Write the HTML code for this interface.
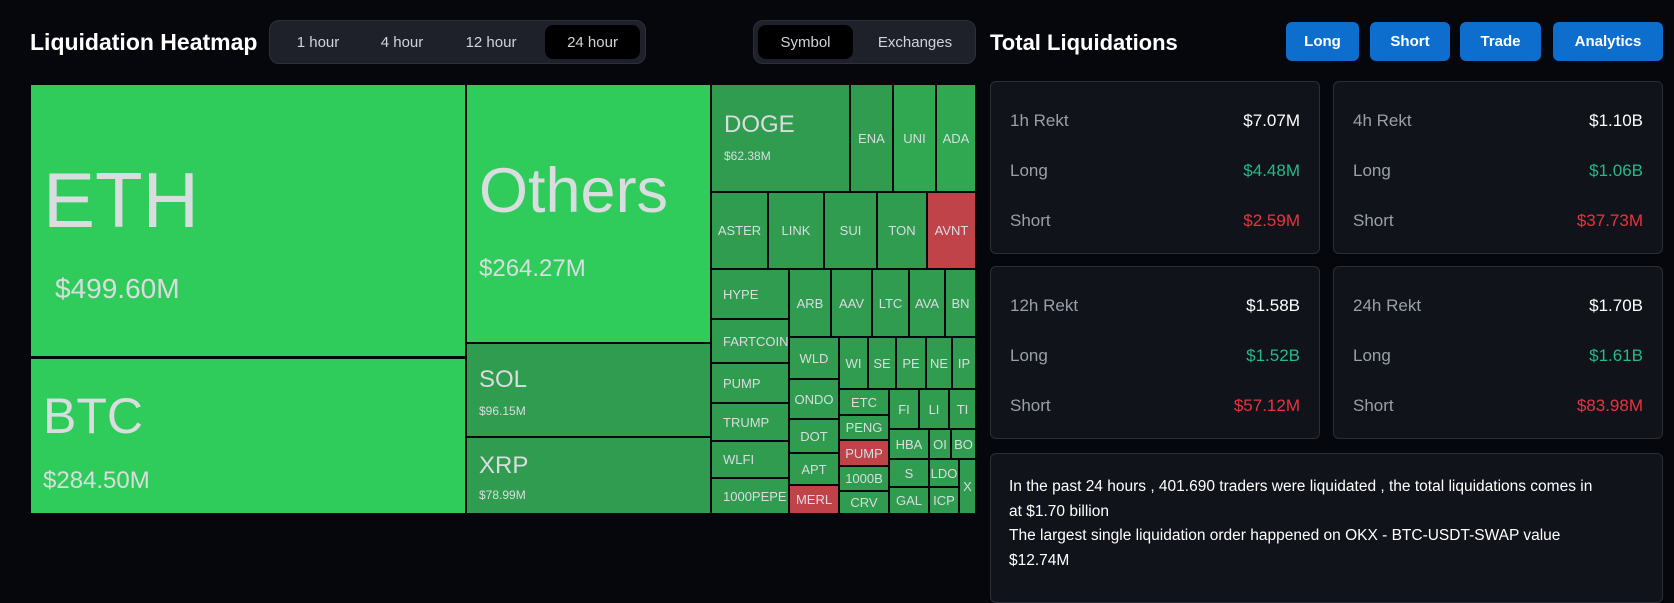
<!DOCTYPE html><html><head><meta charset="utf-8"><style>
*{box-sizing:border-box;margin:0;padding:0}
body{width:1674px;height:586px;background:#05070c;font-family:"Liberation Sans",sans-serif;color:#fff;position:relative;overflow:hidden}
.a{position:absolute}
.t{position:absolute;color:#d9dde0;font-size:13px;display:flex;align-items:center;justify-content:center;overflow:hidden;white-space:nowrap;border:1px solid #05070c}
.g{background:#2f9c4f}.L{background:#2fcc5b}.r{background:#c0434a}.m{background:#30a851}
.tabs{position:absolute;background:#1e2129;border:1px solid #2c3038;border-radius:10px}
.tab{position:absolute;font-size:15px;color:#d0d3d8;top:0;height:100%;display:flex;align-items:center;justify-content:center}
.act{background:#000;border-radius:8px}
.btn{position:absolute;top:22px;height:39px;background:#0d6ecd;border-radius:6px;font-weight:bold;font-size:15px;display:flex;align-items:center;justify-content:center}
.card{position:absolute;background:#10131a;border:1px solid #2a2e36;border-radius:6px}
.row{position:absolute;left:19px;right:19px;display:flex;justify-content:space-between;font-size:17px}
.row span:first-child{color:#9aa0a8}
.gr{color:#25b989}.rd{color:#e8343f}
</style></head><body>
<div class="a" style="left:30px;top:29px;font-size:23px;font-weight:bold">Liquidation Heatmap</div>
<div class="tabs" style="left:269px;top:20px;width:377px;height:44px">
<div class="tab" style="left:8px;width:80px">1 hour</div>
<div class="tab" style="left:92px;width:80px">4 hour</div>
<div class="tab" style="left:176px;width:90px">12 hour</div>
<div class="tab act" style="left:275px;top:4px;height:34px;width:95px">24 hour</div></div>
<div class="tabs" style="left:753px;top:20px;width:223px;height:44px">
<div class="tab act" style="left:4px;top:4px;height:34px;width:95px">Symbol</div>
<div class="tab" style="left:103px;width:116px">Exchanges</div></div>

<div class="t L" style="left:30px;top:84px;width:436px;height:273px;display:block"><div class="a" style="left:12px;top:70px;font-size:78px">ETH</div><div class="a" style="left:24px;top:188px;font-size:28px">$499.60M</div></div>
<div class="t L" style="left:30px;top:358px;width:436px;height:156px;display:block"><div class="a" style="left:12px;top:28px;font-size:50px">BTC</div><div class="a" style="left:12px;top:108px;font-size:24px">$284.50M</div></div>
<div class="t L" style="left:466px;top:84px;width:245px;height:259px;display:block"><div class="a" style="left:12px;top:70px;font-size:63px">Others</div><div class="a" style="left:12px;top:170px;font-size:24px">$264.27M</div></div>
<div class="t g" style="left:466px;top:343px;width:245px;height:94px;display:block"><div class="a" style="left:12px;top:22px;font-size:24px">SOL</div><div class="a" style="left:12px;top:60px;font-size:12px">$96.15M</div></div>
<div class="t g" style="left:466px;top:437px;width:245px;height:77px;display:block"><div class="a" style="left:12px;top:14px;font-size:24px">XRP</div><div class="a" style="left:12px;top:50px;font-size:12px">$78.99M</div></div>
<div class="t g" style="left:711px;top:84px;width:139px;height:108px;display:block"><div class="a" style="left:12px;top:26px;font-size:24px">DOGE</div><div class="a" style="left:12px;top:64px;font-size:12px">$62.38M</div></div>
<div class="t g" style="left:850px;top:84px;width:43px;height:108px">ENA</div>
<div class="t m" style="left:893px;top:84px;width:43px;height:108px">UNI</div>
<div class="t m" style="left:936px;top:84px;width:40px;height:108px">ADA</div>
<div class="t g" style="left:711px;top:192px;width:57px;height:77px">ASTER</div>
<div class="t g" style="left:768px;top:192px;width:56px;height:77px">LINK</div>
<div class="t g" style="left:824px;top:192px;width:53px;height:77px">SUI</div>
<div class="t g" style="left:877px;top:192px;width:50px;height:77px">TON</div>
<div class="t r" style="left:927px;top:192px;width:49px;height:77px">AVNT</div>
<div class="t g" style="left:711px;top:269px;width:78px;height:50px;justify-content:flex-start;padding-left:11px">HYPE</div>
<div class="t g" style="left:711px;top:319px;width:78px;height:44px;justify-content:flex-start;padding-left:11px">FARTCOIN</div>
<div class="t g" style="left:711px;top:363px;width:78px;height:40px;justify-content:flex-start;padding-left:11px">PUMP</div>
<div class="t g" style="left:711px;top:403px;width:78px;height:38px;justify-content:flex-start;padding-left:11px">TRUMP</div>
<div class="t g" style="left:711px;top:441px;width:78px;height:37px;justify-content:flex-start;padding-left:11px">WLFI</div>
<div class="t g" style="left:711px;top:478px;width:78px;height:36px;justify-content:flex-start;padding-left:11px">1000PEPE</div>
<div class="t g" style="left:789px;top:269px;width:42px;height:68px">ARB</div>
<div class="t g" style="left:831px;top:269px;width:41px;height:68px">AAV</div>
<div class="t g" style="left:872px;top:269px;width:37px;height:68px">LTC</div>
<div class="t g" style="left:909px;top:269px;width:36px;height:68px">AVA</div>
<div class="t g" style="left:945px;top:269px;width:31px;height:68px">BN</div>
<div class="t g" style="left:789px;top:337px;width:50px;height:42px">WLD</div>
<div class="t g" style="left:789px;top:379px;width:50px;height:40px">ONDO</div>
<div class="t g" style="left:789px;top:419px;width:50px;height:34px">DOT</div>
<div class="t g" style="left:789px;top:453px;width:50px;height:32px">APT</div>
<div class="t r" style="left:789px;top:485px;width:50px;height:29px">MERL</div>
<div class="t g" style="left:839px;top:337px;width:29px;height:52px">WI</div>
<div class="t g" style="left:868px;top:337px;width:28px;height:52px">SE</div>
<div class="t g" style="left:896px;top:337px;width:30px;height:52px">PE</div>
<div class="t g" style="left:926px;top:337px;width:26px;height:52px">NE</div>
<div class="t g" style="left:952px;top:337px;width:24px;height:52px">IP</div>
<div class="t g" style="left:839px;top:389px;width:50px;height:26px">ETC</div>
<div class="t g" style="left:839px;top:415px;width:50px;height:25px">PENG</div>
<div class="t r" style="left:839px;top:440px;width:50px;height:26px">PUMP</div>
<div class="t g" style="left:839px;top:466px;width:50px;height:25px">1000B</div>
<div class="t g" style="left:839px;top:491px;width:50px;height:23px">CRV</div>
<div class="t g" style="left:889px;top:389px;width:30px;height:40px">FI</div>
<div class="t g" style="left:919px;top:389px;width:30px;height:40px">LI</div>
<div class="t g" style="left:949px;top:389px;width:27px;height:40px">TI</div>
<div class="t g" style="left:889px;top:429px;width:40px;height:30px">HBA</div>
<div class="t g" style="left:929px;top:429px;width:22px;height:30px">OI</div>
<div class="t g" style="left:951px;top:429px;width:25px;height:30px">BO</div>
<div class="t g" style="left:889px;top:459px;width:40px;height:28px">S</div>
<div class="t g" style="left:929px;top:459px;width:30px;height:28px">LDO</div>
<div class="t g" style="left:959px;top:459px;width:17px;height:55px">X</div>
<div class="t g" style="left:889px;top:487px;width:40px;height:27px">GAL</div>
<div class="t g" style="left:929px;top:487px;width:30px;height:27px">ICP</div>

<div class="a" style="left:990px;top:30px;font-size:22px;font-weight:bold">Total Liquidations</div>
<div class="btn" style="left:1286px;width:73px">Long</div>
<div class="btn" style="left:1370px;width:80px">Short</div>
<div class="btn" style="left:1460px;width:81px">Trade</div>
<div class="btn" style="left:1553px;width:110px">Analytics</div>

<div class="card" style="left:990px;top:81px;width:330px;height:173px">
<div class="row" style="top:29px"><span>1h Rekt</span><span>$7.07M</span></div>
<div class="row" style="top:79px"><span>Long</span><span class="gr">$4.48M</span></div>
<div class="row" style="top:129px"><span>Short</span><span class="rd">$2.59M</span></div></div>
<div class="card" style="left:1333px;top:81px;width:330px;height:173px">
<div class="row" style="top:29px"><span>4h Rekt</span><span>$1.10B</span></div>
<div class="row" style="top:79px"><span>Long</span><span class="gr">$1.06B</span></div>
<div class="row" style="top:129px"><span>Short</span><span class="rd">$37.73M</span></div></div>
<div class="card" style="left:990px;top:266px;width:330px;height:173px">
<div class="row" style="top:29px"><span>12h Rekt</span><span>$1.58B</span></div>
<div class="row" style="top:79px"><span>Long</span><span class="gr">$1.52B</span></div>
<div class="row" style="top:129px"><span>Short</span><span class="rd">$57.12M</span></div></div>
<div class="card" style="left:1333px;top:266px;width:330px;height:173px">
<div class="row" style="top:29px"><span>24h Rekt</span><span>$1.70B</span></div>
<div class="row" style="top:79px"><span>Long</span><span class="gr">$1.61B</span></div>
<div class="row" style="top:129px"><span>Short</span><span class="rd">$83.98M</span></div></div>
<div class="card" style="left:990px;top:453px;width:673px;height:150px;padding:21px 18px;font-size:15.5px;line-height:24.5px;white-space:nowrap">
In the past 24 hours , 401.690 traders were liquidated , the total liquidations comes in<br>at $1.70 billion<br>The largest single liquidation order happened on OKX - BTC-USDT-SWAP value<br>$12.74M</div>
</body></html>
